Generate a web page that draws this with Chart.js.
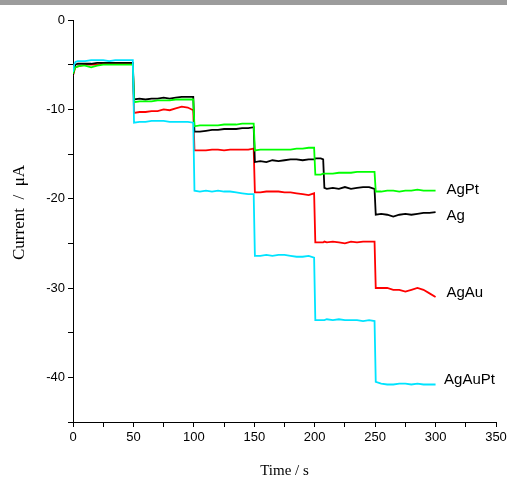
<!DOCTYPE html>
<html>
<head>
    <title>Current vs Time</title>
    <script src="https://cdn.jsdelivr.net/npm/chart.js"></script>
    <style>
        html, body {
            margin: 0;
            padding: 0;
            background: #fff;
        }
        #wrap {
            position: relative;
            width: 507px;
            height: 479px;
        }
        #topbar {
            position: absolute;
            left: 0;
            top: 0;
            width: 507px;
            height: 5px;
            background: #9c9c9c;
        }
    </style>
</head>
<body>
<div id="wrap">
    <canvas id="chart" width="507" height="479"></canvas>
    <div id="topbar"></div>
</div>

<script>
    // time points (s), shared by all four curves
    const times = [
        0, 1, 2, 4, 7, 10, 15, 20, 25, 30, 35, 40, 45, 49.5,
        50.5, 55, 60, 65, 70, 75, 80, 85, 90, 95, 99.5,
        100.5, 105, 110, 115, 120, 125, 130, 135, 140, 145, 149.5,
        150.5, 155, 160, 165, 170, 175, 180, 185, 190, 195, 199.5,
        200.5, 205, 207, 208, 210, 215, 220, 225, 230, 235, 240, 245, 249.5,
        250.5, 255, 260, 265, 270, 275, 280, 285, 290, 295, 300
    ];

    // current (uA)
    const agPt = [
        -6.0, -5.6, -5.3, -5.2, -5.1, -5.1, -5.3, -5.1, -5.0, -5.0, -5.0, -5.0, -5.0, -5.0,
        -9.2, -9.1, -9.1, -9.1, -9.0, -9.0, -9.0, -8.9, -8.9, -8.9, -8.9,
        -11.9, -11.8, -11.8, -11.8, -11.8, -11.7, -11.7, -11.7, -11.6, -11.6, -11.6,
        -14.6, -14.5, -14.5, -14.5, -14.5, -14.5, -14.5, -14.4, -14.4, -14.3, -14.3,
        -17.3, -17.3, -17.2, -17.2, -17.2, -17.2, -17.1, -17.1, -17.1, -17.0, -17.0, -17.0, -17.0,
        -19.2, -19.2, -19.1, -19.1, -19.2, -19.1, -19.1, -19.0, -19.1, -19.1, -19.1
    ];
    const ag = [
        -6.2, -5.4, -5.0, -4.9, -4.9, -4.9, -4.9, -4.8, -4.8, -4.8, -4.8, -4.8, -4.8, -4.8,
        -8.9, -8.8, -8.9, -8.8, -8.8, -8.7, -8.8, -8.7, -8.6, -8.6, -8.6,
        -12.5, -12.5, -12.4, -12.3, -12.3, -12.2, -12.2, -12.2, -12.1, -12.1, -12.0,
        -15.9, -15.8, -15.9, -15.7, -15.8, -15.7, -15.6, -15.6, -15.7, -15.6, -15.6,
        -15.5, -15.5, -15.6, -18.8, -18.9, -18.8, -18.9, -18.7, -18.9, -18.8, -18.7, -18.7, -18.9,
        -21.8, -21.7, -21.8, -22.0, -21.8, -21.7, -21.8, -21.7, -21.6, -21.6, -21.5
    ];
    const agAu = [
        -6.2, -5.7, -5.3, -5.2, -5.1, -5.0, -5.0, -5.0, -4.9, -4.9, -4.9, -4.9, -4.9, -4.9,
        -10.4, -10.3, -10.3, -10.2, -10.2, -10.0, -10.1, -9.9, -9.7, -9.8, -10.1,
        -14.6, -14.6, -14.6, -14.5, -14.5, -14.6, -14.5, -14.5, -14.5, -14.5, -14.4,
        -19.3, -19.3, -19.2, -19.2, -19.2, -19.3, -19.3, -19.4, -19.5, -19.6, -19.4,
        -24.9, -24.9, -24.9, -24.8, -24.9, -24.8, -24.9, -25.0, -24.8, -24.9, -24.8, -24.8, -24.8,
        -30.0, -30.0, -30.0, -30.2, -30.2, -30.4, -30.2, -30.0, -30.2, -30.6, -31.0
    ];
    const agAuPt = [
        -5.8, -5.0, -4.7, -4.6, -4.6, -4.6, -4.5, -4.5, -4.5, -4.6, -4.5, -4.5, -4.5, -4.5,
        -11.5, -11.4, -11.4, -11.3, -11.3, -11.3, -11.4, -11.4, -11.4, -11.4, -11.5,
        -19.1, -19.2, -19.1, -19.2, -19.1, -19.2, -19.2, -19.3, -19.4, -19.5, -19.5,
        -26.4, -26.4, -26.3, -26.4, -26.3, -26.3, -26.4, -26.5, -26.5, -26.4, -26.6,
        -33.6, -33.6, -33.6, -33.6, -33.5, -33.6, -33.5, -33.6, -33.6, -33.6, -33.7, -33.6, -33.7,
        -40.5, -40.7, -40.8, -40.8, -40.7, -40.7, -40.8, -40.7, -40.8, -40.8, -40.8
    ];

    const seriesNames = ['AgAuPt', 'AgPt', 'Ag', 'AgAu'];
    const seriesColors = ['#00e4ff', '#00ff00', '#000000', '#ff0000'];
    const seriesValues = [agAuPt, agPt, ag, agAu];

    // where each curve's name is written (data units)
    const labelAnchors = {
        AgPt: [309, -19.0],
        Ag: [309, -21.9],
        AgAu: [309, -30.5],
        AgAuPt: [307, -40.3]
    };

    const toPoints = vals => vals.map((v, i) => ({ x: times[i], y: v }));

    const seriesLabels = {
        id: 'seriesLabels',
        afterDatasetsDraw(chart) {
            const ctx = chart.ctx;
            const xs = chart.scales.x, ys = chart.scales.y;
            ctx.save();
            ctx.fillStyle = '#000';
            ctx.font = '15px "Liberation Sans", Arial, sans-serif';
            ctx.textBaseline = 'middle';
            ctx.textAlign = 'left';
            seriesNames.forEach(name => {
                const a = labelAnchors[name];
                ctx.fillText(name, xs.getPixelForValue(a[0]), ys.getPixelForValue(a[1]));
            });
            ctx.restore();
        }
    };

    const tickFont = { family: '"Liberation Sans", Arial, sans-serif', size: 13 };
    const serif = '"Liberation Serif", "Times New Roman", serif';

    new Chart(document.getElementById('chart'), {
        type: 'scatter',
        data: {
            datasets: seriesNames.map((name, i) => ({
                label: name,
                data: toPoints(seriesValues[i]),
                showLine: true,
                borderColor: seriesColors[i],
                backgroundColor: seriesColors[i],
                borderWidth: 1.8,
                pointRadius: 0,
                tension: 0
            }))
        },
        options: {
            responsive: false,
            animation: false,
            layout: { padding: { left: 9, top: 20, right: 11, bottom: 0 } },
            plugins: {
                legend: { display: false },
                tooltip: { enabled: false }
            },
            scales: {
                x: {
                    type: 'linear',
                    min: 0,
                    max: 350,
                    afterFit: s => {
                        s.height = 57;
                        s.paddingRight = 0;
                        s.paddingLeft = 0;
                    },
                    border: { color: '#000', width: 1 },
                    grid: { drawOnChartArea: false, color: '#000', tickLength: 5 },
                    ticks: {
                        stepSize: 25,
                        color: '#000',
                        font: tickFont,
                        padding: 3,
                        maxRotation: 0,
                        autoSkip: false,
                        callback: v => (v % 50 === 0 ? v : '')
                    },
                    title: {
                        display: true,
                        text: 'Time / s',
                        color: '#000',
                        font: { family: serif, size: 15, lineHeight: 1.0 },
                        padding: { top: 0, bottom: 0 }
                    }
                },
                y: {
                    min: -45,
                    max: 0,
                    afterFit: s => { s.width = 64; },
                    border: { color: '#000', width: 1 },
                    grid: { drawOnChartArea: false, color: '#000', tickLength: 5 },
                    ticks: {
                        stepSize: 5,
                        color: '#000',
                        font: tickFont,
                        padding: 3,
                        autoSkip: false,
                        callback: v => (v % 10 === 0 ? v : '')
                    },
                    title: {
                        display: true,
                        text: '    Current  /  μA',
                        color: '#000',
                        font: { family: serif, size: 17 },
                        padding: { top: 0, bottom: 0 }
                    }
                }
            }
        },
        plugins: [seriesLabels]
    });
</script>
</body>
</html>
